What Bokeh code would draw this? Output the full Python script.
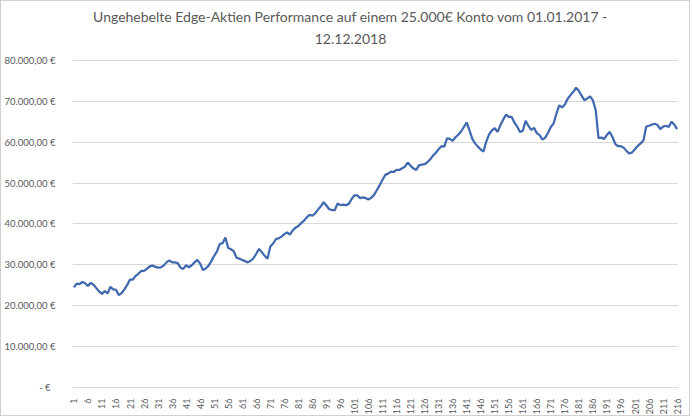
from bokeh.plotting import figure
from bokeh.models import Range1d, FixedTicker, Label, ColumnDataSource
from bokeh.embed import file_html
from bokeh.resources import INLINE
import math

# Account value (in thousand €) per trading day 1..216
values_k = [
    24.5, 25.4, 25.3, 25.8, 25.5, 24.8, 25.6, 25.1, 24.3, 23.5,
    22.9, 23.6, 23.0, 24.6, 24.0, 23.9, 22.6, 23.1, 24.0, 25.1,
    26.4, 26.4, 27.3, 27.8, 28.5, 28.5, 29.0, 29.6, 29.8, 29.5,
    29.3, 29.4, 29.8, 30.6, 31.1, 30.6, 30.6, 30.4, 29.3, 29.0,
    29.9, 29.4, 29.9, 30.6, 31.2, 30.3, 28.7, 29.1, 29.8, 30.9,
    32.2, 33.3, 35.1, 35.3, 36.7, 34.1, 33.8, 33.3, 31.7, 31.5,
    31.2, 30.9, 30.6, 31.0, 31.6, 32.7, 33.9, 33.1, 32.2, 31.5,
    34.5, 35.2, 36.3, 36.5, 36.9, 37.5, 37.9, 37.4, 38.4, 39.1,
    39.5, 40.2, 40.8, 41.6, 42.2, 42.0, 42.6, 43.5, 44.3, 45.3,
    44.5, 43.6, 43.4, 43.4, 45.0, 44.6, 44.7, 44.6, 44.9, 46.1,
    47.0, 47.0, 46.3, 46.5, 46.3, 46.0, 46.4, 47.1, 48.3, 49.5,
    50.8, 52.0, 52.3, 52.8, 52.7, 53.2, 53.2, 53.6, 54.0, 55.0,
    54.2, 53.6, 53.2, 54.3, 54.5, 54.6, 55.1, 55.8, 56.7, 57.4,
    58.3, 59.0, 58.9, 60.9, 60.8, 60.3, 61.2, 61.8, 62.6, 63.7,
    64.8, 62.9, 60.8, 59.7, 58.9, 58.2, 57.7, 60.2, 61.9, 62.9,
    63.4, 62.5, 64.1, 65.5, 66.7, 66.2, 66.2, 64.8, 63.8, 62.5,
    62.8, 65.2, 64.0, 63.0, 63.5, 62.2, 61.7, 60.6, 61.1, 62.3,
    63.7, 64.6, 67.0, 69.0, 68.5, 69.2, 70.6, 71.5, 72.3, 73.3,
    72.5, 71.3, 70.2, 70.7, 71.2, 70.2, 67.8, 61.0, 61.1, 60.8,
    61.8, 62.5, 61.2, 59.5, 59.0, 59.0, 58.6, 57.8, 57.2, 57.5,
    58.3, 59.1, 59.7, 60.4, 63.8, 64.0, 64.3, 64.5, 64.2, 63.2,
    63.8, 64.0, 63.7, 65.0, 64.3, 63.2,
]
days = list(range(1, len(values_k) + 1))
values_eur = [v * 1000 for v in values_k]

x_tick_values = list(range(1, 217, 5))
x_tick_labels = [str(t) for t in x_tick_values]
y_tick_values = [0, 10000, 20000, 30000, 40000, 50000, 60000, 70000, 80000]
y_tick_labels = ["-   €", "10.000,00 €", "20.000,00 €", "30.000,00 €", "40.000,00 €",
                 "50.000,00 €", "60.000,00 €", "70.000,00 €", "80.000,00 €"]

title_line1 = "Ungehebelte Edge-Aktien Performance auf einem 25.000€ Konto vom 01.01.2017 -"
title_line2 = "12.12.2018"

FONT = "Lato"
GRAY = "#595959"

# The frame reaches the top of the canvas so that the two title lines (Labels) are
# drawn inside it; the value axis still runs 0 .. 80.000 € over the lower 328 px.
FRAME_H = 387
PLOT_H = 328
Y_MAX = 80000 * FRAME_H / PLOT_H

p = figure(width=690, height=416, output_backend="svg", toolbar_location=None,
           x_range=Range1d(0.5, 216.5), y_range=Range1d(0, Y_MAX),
           min_border_left=67, min_border_right=13, min_border_top=0, min_border_bottom=29)
p.styles = {"border": "1px solid #d0d0d0"}

for txt, sy in ((title_line1, 371), (title_line2, 349)):
    p.add_layout(Label(x=278, y=sy, x_units="screen", y_units="screen", text=txt,
                       text_align="center", text_baseline="middle", text_font=FONT,
                       text_font_size="14px", text_color=GRAY))

src = ColumnDataSource(dict(x=days, y=values_eur))
p.line("x", "y", source=src, line_color="#4169AF", line_width=2.25)

p.outline_line_color = None
p.background_fill_color = "white"
p.border_fill_color = "white"

p.xgrid.grid_line_color = None
p.ygrid.grid_line_color = "#d9d9d9"
p.ygrid.grid_line_width = 1
p.ygrid.ticker = FixedTicker(ticks=y_tick_values)

p.xaxis.ticker = FixedTicker(ticks=x_tick_values)
p.xaxis.major_label_overrides = {t: l for t, l in zip(x_tick_values, x_tick_labels)}
p.xaxis.major_label_orientation = math.pi / 2
p.xaxis.major_tick_line_color = None
p.xaxis.minor_tick_line_color = None
p.xaxis.axis_line_color = "#d9d9d9"
p.xaxis.major_label_text_font = FONT
p.xaxis.major_label_text_font_size = "9px"
p.xaxis.major_label_text_color = GRAY
p.xaxis.major_label_standoff = 5

p.yaxis.ticker = FixedTicker(ticks=y_tick_values)
p.yaxis.major_label_overrides = {t: l for t, l in zip(y_tick_values, y_tick_labels)}
p.yaxis.major_tick_line_color = None
p.yaxis.minor_tick_line_color = None
p.yaxis.axis_line_color = None
p.yaxis.major_label_text_font = FONT
p.yaxis.major_label_text_font_size = "9.5px"
p.yaxis.major_label_text_color = GRAY
p.yaxis.major_label_standoff = 11

open("out.html", "w").write(file_html(p, INLINE))
